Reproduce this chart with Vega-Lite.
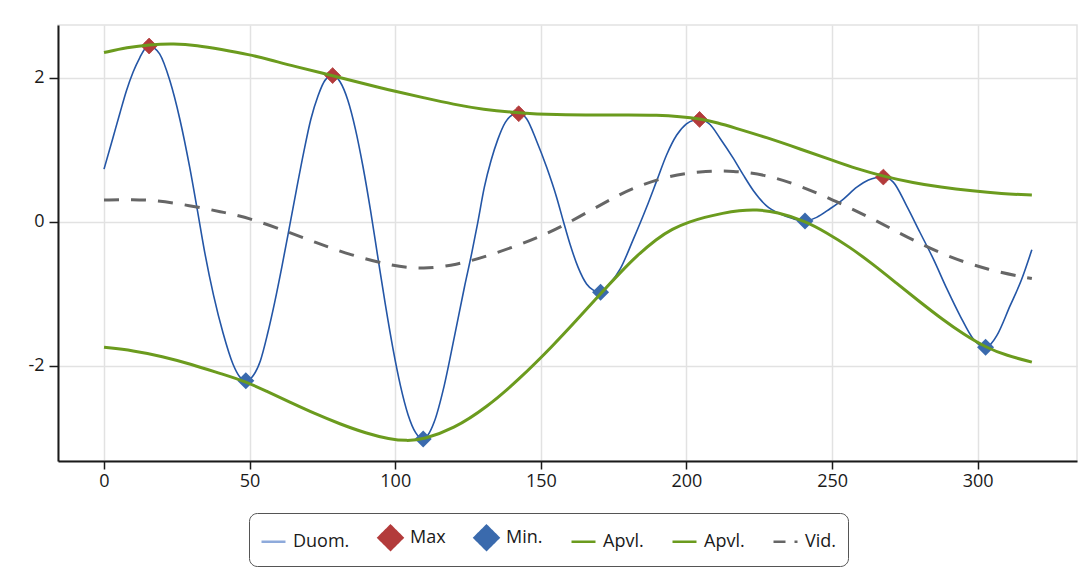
{
  "$schema": "https://vega.github.io/schema/vega-lite/v6.json",
  "width": 1019,
  "height": 436,
  "autosize": {"type": "none"},
  "padding": {"left": 58, "top": 25, "right": 5, "bottom": 120},
  "background": "white",
  "config": {
    "font": "Open Sans",
    "view": {"stroke": "#e2e2e2", "strokeWidth": 1.5},
    "axis": {
      "title": null,
      "domainColor": "#1a1a1a",
      "domainWidth": 2,
      "tickColor": "#1a1a1a",
      "tickWidth": 1.5,
      "tickSize": 8,
      "labelFont": "Open Sans",
      "labelFontSize": 18,
      "labelColor": "#1a1a1a",
      "gridColor": "#e2e2e2",
      "gridWidth": 1.5
    },
    "legend": {
      "title": null, "orient": "none", "legendX": 191, "legendY": 488, "direction": "horizontal",
      "symbolSize": 576, "symbolStrokeWidth": 2.5, "symbolOpacity": 1,
      "labelFont": "Open Sans", "labelFontSize": 18, "labelColor": "#1a1a1a", "labelOffset": 6,
      "columnPadding": 23, "padding": 11, "strokeColor": "#555555", "fillColor": "white", "cornerRadius": 8
    }
  },
  "data": {
    "values": [
      {"s":"Duom.","x":0,"y":0.73},{"s":"Duom.","x":3.1,"y":1.17},{"s":"Duom.","x":5.4,"y":1.5},{"s":"Duom.","x":7.7,"y":1.82},{"s":"Duom.","x":10,"y":2.08},{"s":"Duom.","x":12.3,"y":2.28},{"s":"Duom.","x":14,"y":2.4},{"s":"Duom.","x":15.5,"y":2.44},{"s":"Duom.","x":17.3,"y":2.41},{"s":"Duom.","x":19.1,"y":2.33},{"s":"Duom.","x":22.6,"y":1.96},{"s":"Duom.","x":26,"y":1.43},{"s":"Duom.","x":29.4,"y":0.76},{"s":"Duom.","x":32.1,"y":0.15},{"s":"Duom.","x":34.6,"y":-0.43},{"s":"Duom.","x":37.6,"y":-1.02},{"s":"Duom.","x":40.9,"y":-1.55},{"s":"Duom.","x":44.3,"y":-1.98},{"s":"Duom.","x":46.5,"y":-2.15},{"s":"Duom.","x":48.7,"y":-2.21},{"s":"Duom.","x":51,"y":-2.15},{"s":"Duom.","x":53.7,"y":-1.93},{"s":"Duom.","x":56.2,"y":-1.55},{"s":"Duom.","x":58.6,"y":-1.12},{"s":"Duom.","x":61.1,"y":-0.62},{"s":"Duom.","x":63.6,"y":-0.09},{"s":"Duom.","x":66.1,"y":0.45},{"s":"Duom.","x":68.6,"y":0.97},{"s":"Duom.","x":71,"y":1.42},{"s":"Duom.","x":73.5,"y":1.75},{"s":"Duom.","x":76,"y":1.97},{"s":"Duom.","x":78.5,"y":2.03},{"s":"Duom.","x":81.1,"y":1.94},{"s":"Duom.","x":83.7,"y":1.69},{"s":"Duom.","x":86.3,"y":1.29},{"s":"Duom.","x":88.9,"y":0.77},{"s":"Duom.","x":91.5,"y":0.16},{"s":"Duom.","x":94.05,"y":-0.5},{"s":"Duom.","x":96.6,"y":-1.15},{"s":"Duom.","x":99.2,"y":-1.76},{"s":"Duom.","x":101.8,"y":-2.28},{"s":"Duom.","x":104.4,"y":-2.68},{"s":"Duom.","x":107,"y":-2.93},{"s":"Duom.","x":109.6,"y":-3.02},{"s":"Duom.","x":111.3,"y":-2.96},{"s":"Duom.","x":113.4,"y":-2.78},{"s":"Duom.","x":116.8,"y":-2.28},{"s":"Duom.","x":120.3,"y":-1.6},{"s":"Duom.","x":123.8,"y":-0.9},{"s":"Duom.","x":126.2,"y":-0.45},{"s":"Duom.","x":128.3,"y":-0.02},{"s":"Duom.","x":130.6,"y":0.48},{"s":"Duom.","x":132.9,"y":0.85},{"s":"Duom.","x":135.2,"y":1.14},{"s":"Duom.","x":137.8,"y":1.38},{"s":"Duom.","x":140.1,"y":1.48},{"s":"Duom.","x":142.4,"y":1.51},{"s":"Duom.","x":145.1,"y":1.43},{"s":"Duom.","x":148.5,"y":1.125},{"s":"Duom.","x":152,"y":0.755},{"s":"Duom.","x":155.4,"y":0.34},{"s":"Duom.","x":157.7,"y":0.01},{"s":"Duom.","x":160,"y":-0.31},{"s":"Duom.","x":162.8,"y":-0.635},{"s":"Duom.","x":165.7,"y":-0.865},{"s":"Duom.","x":168,"y":-0.95},{"s":"Duom.","x":170.5,"y":-0.98},{"s":"Duom.","x":173.5,"y":-0.87},{"s":"Duom.","x":177.2,"y":-0.66},{"s":"Duom.","x":181.7,"y":-0.25},{"s":"Duom.","x":186.3,"y":0.2},{"s":"Duom.","x":189.8,"y":0.57},{"s":"Duom.","x":193.2,"y":0.93},{"s":"Duom.","x":196.6,"y":1.2},{"s":"Duom.","x":200,"y":1.36},{"s":"Duom.","x":202.5,"y":1.41},{"s":"Duom.","x":204.5,"y":1.42},{"s":"Duom.","x":208.1,"y":1.35},{"s":"Duom.","x":211.5,"y":1.16},{"s":"Duom.","x":216.1,"y":0.88},{"s":"Duom.","x":219.5,"y":0.65},{"s":"Duom.","x":223,"y":0.43},{"s":"Duom.","x":227.5,"y":0.22},{"s":"Duom.","x":232.1,"y":0.11},{"s":"Duom.","x":236.7,"y":0.04},{"s":"Duom.","x":240.7,"y":0.01},{"s":"Duom.","x":244.7,"y":0.06},{"s":"Duom.","x":249.3,"y":0.18},{"s":"Duom.","x":253.9,"y":0.315},{"s":"Duom.","x":258.5,"y":0.48},{"s":"Duom.","x":262.5,"y":0.58},{"s":"Duom.","x":265,"y":0.61},{"s":"Duom.","x":267.6,"y":0.62},{"s":"Duom.","x":271,"y":0.55},{"s":"Duom.","x":275.6,"y":0.22},{"s":"Duom.","x":280.2,"y":-0.15},{"s":"Duom.","x":284.8,"y":-0.52},{"s":"Duom.","x":289.4,"y":-0.93},{"s":"Duom.","x":294,"y":-1.31},{"s":"Duom.","x":298.5,"y":-1.63},{"s":"Duom.","x":300.5,"y":-1.71},{"s":"Duom.","x":302.7,"y":-1.745},{"s":"Duom.","x":304.5,"y":-1.7},{"s":"Duom.","x":306.6,"y":-1.58},{"s":"Duom.","x":311.1,"y":-1.17},{"s":"Duom.","x":315.1,"y":-0.8},{"s":"Duom.","x":318.6,"y":-0.39},

      {"s":"Max","x":15.5,"y":2.44},{"s":"Max","x":78.5,"y":2.03},{"s":"Max","x":142.4,"y":1.5},{"s":"Max","x":204.5,"y":1.42},{"s":"Max","x":267.6,"y":0.62},
      {"s":"Min.","x":48.7,"y":-2.21},{"s":"Min.","x":109.6,"y":-3.02},{"s":"Min.","x":170.5,"y":-0.98},{"s":"Min.","x":240.7,"y":0.01},{"s":"Min.","x":302.7,"y":-1.745},

      {"s":"Apvl.1","x":0,"y":2.35},{"s":"Apvl.1","x":8,"y":2.42},{"s":"Apvl.1","x":15.5,"y":2.46},{"s":"Apvl.1","x":24,"y":2.475},{"s":"Apvl.1","x":32,"y":2.45},{"s":"Apvl.1","x":40,"y":2.395},{"s":"Apvl.1","x":50,"y":2.32},{"s":"Apvl.1","x":57,"y":2.25},{"s":"Apvl.1","x":65,"y":2.16},{"s":"Apvl.1","x":78.5,"y":2.03},{"s":"Apvl.1","x":90,"y":1.91},{"s":"Apvl.1","x":100,"y":1.81},{"s":"Apvl.1","x":110,"y":1.72},{"s":"Apvl.1","x":120,"y":1.63},{"s":"Apvl.1","x":130,"y":1.56},{"s":"Apvl.1","x":142.4,"y":1.51},{"s":"Apvl.1","x":155,"y":1.485},{"s":"Apvl.1","x":170,"y":1.48},{"s":"Apvl.1","x":180,"y":1.485},{"s":"Apvl.1","x":190,"y":1.48},{"s":"Apvl.1","x":198,"y":1.46},{"s":"Apvl.1","x":204.5,"y":1.43},{"s":"Apvl.1","x":211,"y":1.37},{"s":"Apvl.1","x":216,"y":1.31},{"s":"Apvl.1","x":227.5,"y":1.17},{"s":"Apvl.1","x":239,"y":1.01},{"s":"Apvl.1","x":250.4,"y":0.85},{"s":"Apvl.1","x":258,"y":0.74},{"s":"Apvl.1","x":267.6,"y":0.63},{"s":"Apvl.1","x":278,"y":0.54},{"s":"Apvl.1","x":287,"y":0.48},{"s":"Apvl.1","x":298.5,"y":0.425},{"s":"Apvl.1","x":308,"y":0.39},{"s":"Apvl.1","x":318.6,"y":0.37},

      {"s":"Apvl.2","x":0,"y":-1.745},{"s":"Apvl.2","x":10,"y":-1.79},{"s":"Apvl.2","x":20,"y":-1.87},{"s":"Apvl.2","x":30,"y":-1.98},{"s":"Apvl.2","x":40,"y":-2.11},{"s":"Apvl.2","x":48.7,"y":-2.22},{"s":"Apvl.2","x":56,"y":-2.36},{"s":"Apvl.2","x":64,"y":-2.51},{"s":"Apvl.2","x":72,"y":-2.66},{"s":"Apvl.2","x":81,"y":-2.81},{"s":"Apvl.2","x":90,"y":-2.94},{"s":"Apvl.2","x":98,"y":-3.02},{"s":"Apvl.2","x":104,"y":-3.045},{"s":"Apvl.2","x":109.6,"y":-3.025},{"s":"Apvl.2","x":119.9,"y":-2.88},{"s":"Apvl.2","x":131.4,"y":-2.58},{"s":"Apvl.2","x":142.8,"y":-2.18},{"s":"Apvl.2","x":154.2,"y":-1.72},{"s":"Apvl.2","x":162,"y":-1.38},{"s":"Apvl.2","x":170.5,"y":-1.0},{"s":"Apvl.2","x":177.2,"y":-0.71},{"s":"Apvl.2","x":183,"y":-0.47},{"s":"Apvl.2","x":189.8,"y":-0.24},{"s":"Apvl.2","x":195,"y":-0.1},{"s":"Apvl.2","x":201.2,"y":0.0},{"s":"Apvl.2","x":206,"y":0.06},{"s":"Apvl.2","x":212.6,"y":0.12},{"s":"Apvl.2","x":218,"y":0.155},{"s":"Apvl.2","x":224,"y":0.17},{"s":"Apvl.2","x":231,"y":0.135},{"s":"Apvl.2","x":240.7,"y":0.01},{"s":"Apvl.2","x":248,"y":-0.15},{"s":"Apvl.2","x":256,"y":-0.35},{"s":"Apvl.2","x":264,"y":-0.59},{"s":"Apvl.2","x":272,"y":-0.85},{"s":"Apvl.2","x":280,"y":-1.11},{"s":"Apvl.2","x":288,"y":-1.36},{"s":"Apvl.2","x":295,"y":-1.56},{"s":"Apvl.2","x":302.7,"y":-1.745},{"s":"Apvl.2","x":310,"y":-1.86},{"s":"Apvl.2","x":318.6,"y":-1.95},

      {"s":"Vid.","x":0,"y":0.3},{"s":"Vid.","x":10,"y":0.31},{"s":"Vid.","x":18,"y":0.295},{"s":"Vid.","x":29.4,"y":0.225},{"s":"Vid.","x":40,"y":0.14},{"s":"Vid.","x":50,"y":0.05},{"s":"Vid.","x":63.8,"y":-0.15},{"s":"Vid.","x":72,"y":-0.28},{"s":"Vid.","x":84.4,"y":-0.46},{"s":"Vid.","x":99.3,"y":-0.62},{"s":"Vid.","x":109.6,"y":-0.66},{"s":"Vid.","x":121.1,"y":-0.6},{"s":"Vid.","x":131.4,"y":-0.48},{"s":"Vid.","x":142,"y":-0.33},{"s":"Vid.","x":150,"y":-0.2},{"s":"Vid.","x":157,"y":-0.07},{"s":"Vid.","x":166.8,"y":0.15},{"s":"Vid.","x":174.9,"y":0.33},{"s":"Vid.","x":181.7,"y":0.47},{"s":"Vid.","x":193.2,"y":0.63},{"s":"Vid.","x":204.6,"y":0.7},{"s":"Vid.","x":216.1,"y":0.71},{"s":"Vid.","x":227.5,"y":0.65},{"s":"Vid.","x":239,"y":0.5},{"s":"Vid.","x":250.4,"y":0.3},{"s":"Vid.","x":261.9,"y":0.08},{"s":"Vid.","x":270,"y":-0.09},{"s":"Vid.","x":287,"y":-0.45},{"s":"Vid.","x":304.2,"y":-0.68},{"s":"Vid.","x":318.6,"y":-0.79}
    ]
  },
  "encoding": {
    "x": {"field": "x", "type": "quantitative",
      "scale": {"domain": [-15.8, 334.1], "nice": false, "zero": false},
      "axis": {"values": [0, 50, 100, 150, 200, 250, 300], "labelPadding": 3, "grid": true}},
    "y": {"field": "y", "type": "quantitative",
      "scale": {"domain": [-3.324, 2.732], "nice": false, "zero": false},
      "axis": {"values": [-2, 0, 2], "labelPadding": 5, "tickSize": 9, "labelExpr": "'' + datum.value", "grid": true}}
  },
  "layer": [
    {
      "transform": [{"filter": "datum.s === 'Duom.'"}],
      "mark": {"type": "line", "color": "#2456a6", "strokeWidth": 1.6, "interpolate": "monotone"}
    },
    {
      "transform": [{"filter": "datum.s === 'Min.'"}],
      "mark": {"type": "point", "shape": "diamond", "filled": true, "size": 289, "opacity": 1, "color": "#3a6aad"}
    },
    {
      "transform": [{"filter": "datum.s === 'Max'"}],
      "mark": {"type": "point", "size": 250, "opacity": 1, "strokeWidth": 1},
      "encoding": {
        "fill": {"field": "s", "type": "nominal",
          "scale": {"domain": ["Duom.", "Max", "Min.", "Apvl.1", "Apvl.2", "Vid."],
                    "range": ["#8eaadb", "#b33b3b", "#3a6aad", "#6b9b1e", "#6b9b1e", "#666666"]},
          "legend": {"labelExpr": "datum.label === 'Apvl.1' || datum.label === 'Apvl.2' ? 'Apvl.' : datum.label"}
        },
        "stroke": {"field": "s", "type": "nominal",
          "scale": {"domain": ["Duom.", "Max", "Min.", "Apvl.1", "Apvl.2", "Vid."],
                    "range": ["#8eaadb", "#b33b3b", "#3a6aad", "#6b9b1e", "#6b9b1e", "#666666"]},
          "legend": {"labelExpr": "datum.label === 'Apvl.1' || datum.label === 'Apvl.2' ? 'Apvl.' : datum.label"}
        },
        "shape": {"field": "s", "type": "nominal",
          "scale": {"domain": ["Duom.", "Max", "Min.", "Apvl.1", "Apvl.2", "Vid."],
                    "range": ["stroke", "diamond", "diamond", "stroke", "stroke", "stroke"]},
          "legend": {"labelExpr": "datum.label === 'Apvl.1' || datum.label === 'Apvl.2' ? 'Apvl.' : datum.label"}
        },
        "strokeDash": {"field": "s", "type": "nominal",
          "scale": {"domain": ["Duom.", "Max", "Min.", "Apvl.1", "Apvl.2", "Vid."],
                    "range": [[1, 0], [1, 0], [1, 0], [1, 0], [1, 0], [12, 9]]},
          "legend": {"labelExpr": "datum.label === 'Apvl.1' || datum.label === 'Apvl.2' ? 'Apvl.' : datum.label"}
        }
      }
    },
    {
      "transform": [{"filter": "datum.s === 'Apvl.1' || datum.s === 'Apvl.2'"}],
      "mark": {"type": "line", "strokeWidth": 3, "interpolate": "basis", "color": "#6b9b1e"},
      "encoding": {"detail": {"field": "s"}}
    },
    {
      "transform": [{"filter": "datum.s === 'Vid.'"}],
      "mark": {"type": "line", "strokeWidth": 3, "interpolate": "basis", "color": "#666666", "strokeDash": [15, 12]}
    }
  ]
}
